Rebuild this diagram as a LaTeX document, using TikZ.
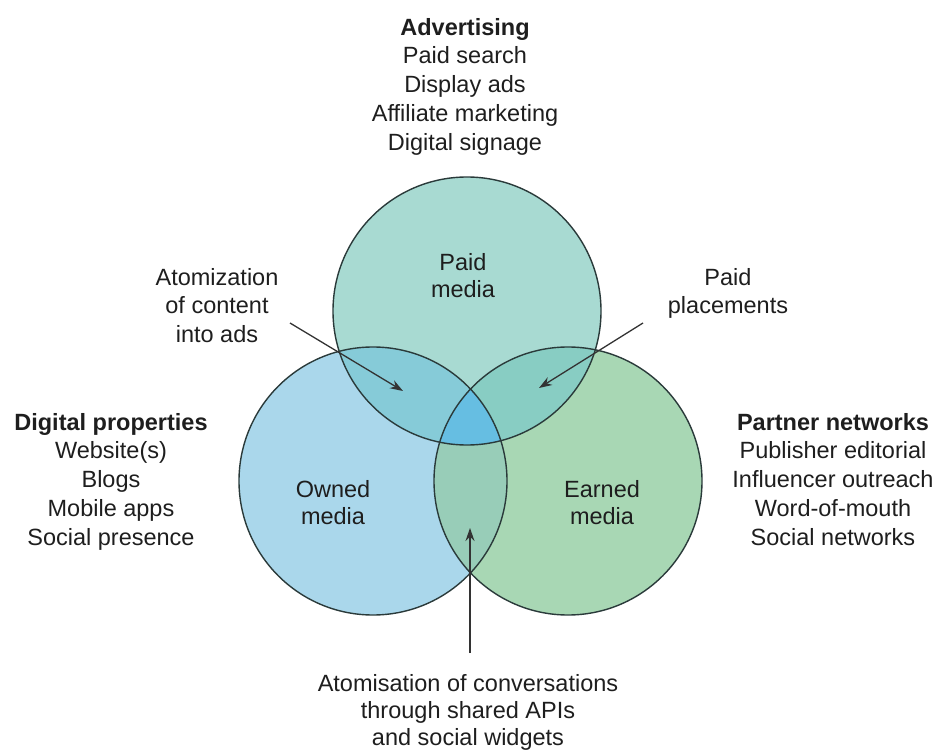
\documentclass[tikz,border=0pt]{standalone}
\usepackage{fontspec}
\setmainfont{Liberation Sans}
\usetikzlibrary{arrows.meta}

% region colours
\definecolor{paidfill}{HTML}{A8DAD2}
\definecolor{ownedfill}{HTML}{AAD7EB}
\definecolor{earnedfill}{HTML}{A8D7B4}
\definecolor{paidowned}{HTML}{86CBD8}
\definecolor{paidearned}{HTML}{88CDC3}
\definecolor{ownedearned}{HTML}{98CDB8}
\definecolor{allthree}{HTML}{66BEE2}
\definecolor{ringline}{HTML}{2A3A3A}
\definecolor{arrowline}{HTML}{333333}
\definecolor{textgray}{HTML}{1E1E1E}

\begin{document}
\begin{tikzpicture}[x=1pt,y=-1pt,
  blocktext/.style={font=\fontsize{23.5}{28.7}\selectfont, text=textgray,
    align=center, inner sep=0pt, anchor=north},
  tighttext/.style={blocktext, font=\fontsize{23.5}{27}\selectfont},
  ring/.style={draw=ringline, line width=1.4pt},
  pointer/.style={draw=arrowline, line width=1.3pt,
    -{Stealth[length=13pt,width=9pt]}}]
\useasboundingbox (0,0) rectangle (937,751);

% circle centres
\coordinate (cp) at (467,311);
\coordinate (co) at (373,481);
\coordinate (ce) at (568,481);
\def\vennr{134pt}

% base fills
\fill[paidfill]   (cp) circle[radius=\vennr];
\fill[ownedfill]  (co) circle[radius=\vennr];
\fill[earnedfill] (ce) circle[radius=\vennr];

% pairwise overlaps
\begin{scope}
  \clip (cp) circle[radius=\vennr];
  \fill[paidowned]  (co) circle[radius=\vennr];
  \fill[paidearned] (ce) circle[radius=\vennr];
\end{scope}
\begin{scope}
  \clip (co) circle[radius=\vennr];
  \fill[ownedearned] (ce) circle[radius=\vennr];
\end{scope}
% triple overlap
\begin{scope}
  \clip (cp) circle[radius=\vennr];
  \clip (co) circle[radius=\vennr];
  \fill[allthree] (ce) circle[radius=\vennr];
\end{scope}

% outlines
\draw[ring] (cp) circle[radius=\vennr];
\draw[ring] (co) circle[radius=\vennr];
\draw[ring] (ce) circle[radius=\vennr];

% labels inside the circles
\node[tighttext] (paidlbl)   at (463,253) {Paid\\media};
\node[tighttext] (ownedlbl)  at (333,480) {Owned\\media};
\node[tighttext] (earnedlbl) at (602,480) {Earned\\media};

% surrounding lists
\node[blocktext] (adv) at (465,18)
  {\textbf{Advertising}\\Paid search\\Display ads\\Affiliate marketing\\Digital signage};
\node[blocktext] (digi) at (111,413)
  {\textbf{Digital properties}\\Website(s)\\Blogs\\Mobile apps\\Social presence};
\node[blocktext] (partner) at (833,413)
  {\textbf{Partner networks}\\Publisher editorial\\Influencer outreach\\Word-of-mouth\\Social networks};

% annotations
\node[blocktext] (atom) at (217,268) {Atomization\\of content\\into ads};
\node[blocktext] (plac) at (728,268) {Paid\\placements};
\node[tighttext] (conv) at (468,674)
  {Atomisation of conversations\\through shared APIs\\and social widgets};

% pointers
\coordinate (atomfrom) at (290,323);
\coordinate (atomto)   at (403,391);
\coordinate (placfrom) at (643,323);
\coordinate (placto)   at (539,388);
\coordinate (convfrom) at (470,653);
\coordinate (convto)   at (470,528);
\draw[pointer] (atomfrom) -- (atomto);
\draw[pointer] (placfrom) -- (placto);
\draw[pointer] (convfrom) -- (convto);
\end{tikzpicture}
\end{document}
